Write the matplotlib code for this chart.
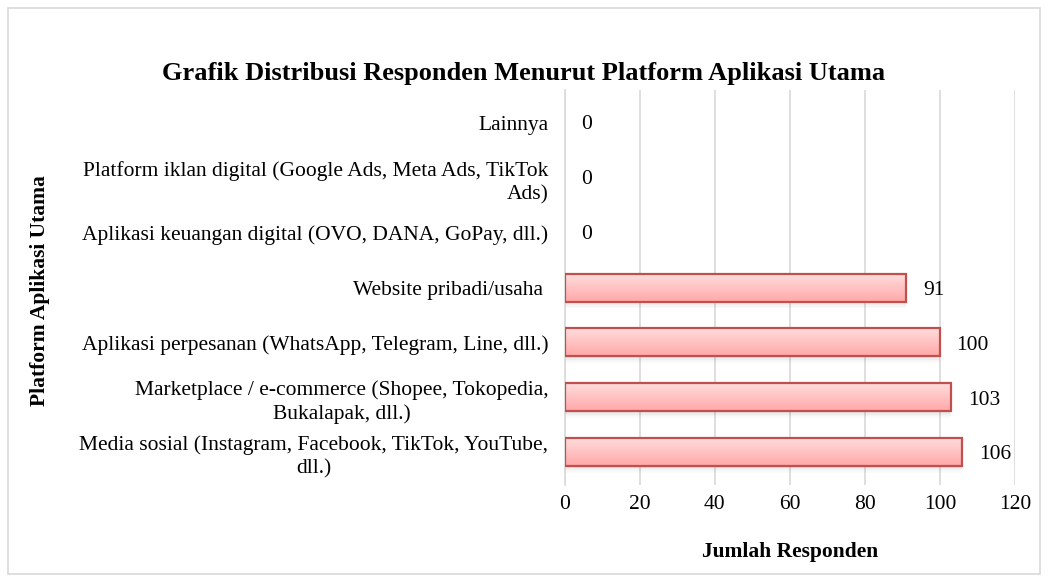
import matplotlib
matplotlib.use("Agg")
import matplotlib.pyplot as plt
import numpy as np
from matplotlib.patches import Rectangle
from matplotlib.colors import LinearSegmentedColormap

plt.rcParams['font.family'] = ['Liberation Serif', 'DejaVu Serif']

categories = [
    "Media sosial (Instagram, Facebook, TikTok, YouTube,\ndll.)",
    "Marketplace / e-commerce (Shopee, Tokopedia,\nBukalapak, dll.)",
    "Aplikasi perpesanan (WhatsApp, Telegram, Line, dll.)",
    "Website pribadi/usaha ",
    "Aplikasi keuangan digital (OVO, DANA, GoPay, dll.)",
    "Platform iklan digital (Google Ads, Meta Ads, TikTok\nAds)",
    "Lainnya",
]
values = [106, 103, 100, 91, 0, 0, 0]
xticks = [0, 20, 40, 60, 80, 100, 120]

FS = 15.5

fig = plt.figure(figsize=(10.48, 5.81), dpi=100)
ax = fig.add_axes([0.539, 0.165, 0.4295, 0.68])

fig.patches.append(Rectangle((0.008, 0.012), 0.984, 0.974, transform=fig.transFigure,
                             fill=False, edgecolor='#d9d9d9', linewidth=1.2))

y = np.arange(len(categories))
h = 0.51
grad = np.linspace(0, 1, 64).reshape(-1, 1)
cmap = LinearSegmentedColormap.from_list('pk', ['#ffdcdc', '#ffa8a8'])

for yi, v in zip(y, values):
    if v <= 0:
        continue
    for k, a in enumerate([0.10, 0.07, 0.04, 0.02]):
        ax.add_patch(Rectangle((0, yi - h / 2 - 0.03 * (k + 1)), v, 0.03, facecolor='black',
                               alpha=a, edgecolor='none', zorder=2))
    ax.imshow(grad, extent=(0, v, yi - h / 2, yi + h / 2), origin='upper', cmap=cmap,
              aspect='auto', zorder=3, interpolation='bilinear')
    ax.add_patch(Rectangle((0, yi - h / 2), v, h, fill=False, edgecolor='#c0504d',
                           linewidth=1.6, zorder=4))
    ax.annotate(str(v), (v, yi), xytext=(12, -2), textcoords='offset points',
                va='center', ha='left', fontsize=FS)
for yi, v in zip(y, values):
    if v == 0:
        ax.annotate(str(v), (v, yi), xytext=(12, -1), textcoords='offset points',
                    va='center', ha='left', fontsize=FS)

ax.set_xlim(0, 120)
ax.set_ylim(-0.6, len(categories) - 0.4)
ax.set_xticks(xticks)
ax.set_xticklabels([str(t) for t in xticks], fontsize=FS)
ax.set_yticks(y)
ax.set_yticklabels(categories, fontsize=FS, linespacing=1.3)
aligns = ['center', 'center', 'center', 'center', 'center', 'right', 'center']
for lbl, al in zip(ax.get_yticklabels(), aligns):
    lbl.set_multialignment(al)
ax.tick_params(axis='both', length=0)
ax.tick_params(axis='y', pad=12)
ax.tick_params(axis='x', pad=7)
ax.grid(axis='x', color='#d9d9d9', linewidth=1.2, zorder=0)
ax.set_axisbelow(True)
for s in ['top', 'right', 'bottom']:
    ax.spines[s].set_visible(False)
ax.spines['left'].set_color('#d9d9d9')
ax.spines['left'].set_linewidth(1.2)

ax.set_xlabel("Jumlah Responden", fontsize=FS, fontweight='bold', labelpad=20)
fig.text(0.038, 0.5, "Platform Aplikasi Utama", rotation=90, fontsize=FS,
         fontweight='bold', ha='center', va='center')
fig.text(0.5, 0.874, "Grafik Distribusi Responden Menurut Platform Aplikasi Utama",
         fontsize=19, fontweight='bold', ha='center', va='center')

fig.savefig("out.png", dpi=100)
